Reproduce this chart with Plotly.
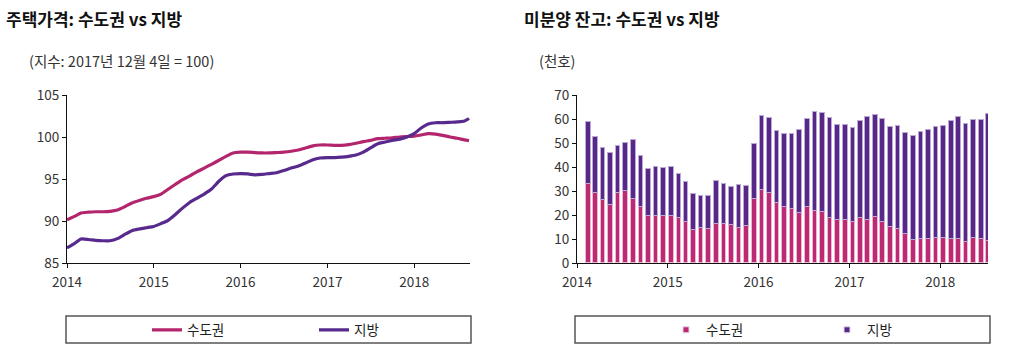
import pandas as pd
import plotly.graph_objects as go

# ---------------- Data ----------------
# Left: housing price index (2017-12-04 = 100), monthly from Jan 2014 + final point
price_dates = list(pd.date_range("2014-01-01", periods=56, freq="MS").strftime("%Y-%m-%d")) + ["2018-08-20"]
capital_idx = [90.15, 90.55, 90.95, 91.05, 91.1, 91.1, 91.15, 91.3, 91.7, 92.15, 92.45, 92.7,
               92.9, 93.2, 93.75, 94.35, 94.9, 95.35, 95.85, 96.3, 96.75, 97.2, 97.7, 98.1,
               98.2, 98.2, 98.15, 98.1, 98.1, 98.15, 98.2, 98.3, 98.45, 98.7, 98.95, 99.05,
               99.05, 99.0, 99.0, 99.1, 99.25, 99.45, 99.6, 99.8, 99.85, 99.9, 100.0, 100.05,
               100.1, 100.25, 100.4, 100.35, 100.2, 100.0, 99.85, 99.65, 99.55]
region_idx = [86.8, 87.3, 87.85, 87.8, 87.7, 87.65, 87.65, 87.9, 88.4, 88.85, 89.05, 89.2,
              89.35, 89.7, 90.05, 90.75, 91.5, 92.2, 92.7, 93.2, 93.8, 94.7, 95.4, 95.6,
              95.65, 95.6, 95.5, 95.55, 95.65, 95.75, 96.0, 96.3, 96.55, 96.9, 97.3, 97.5,
              97.55, 97.55, 97.6, 97.7, 97.85, 98.2, 98.7, 99.2, 99.4, 99.6, 99.75, 100.0,
              100.4, 101.1, 101.55, 101.7, 101.7, 101.75, 101.8, 101.9, 102.2]

# Right: unsold housing stock (thousand units), monthly Jan 2014 - Jun 2018
stock_dates = list(pd.date_range("2014-01-15", periods=54, freq="MS").strftime("%Y-%m-15"))
stock_total = [58.6, 52.4, 47.9, 45.7, 48.9, 50.0, 51.4, 44.7, 39.3, 40.0, 39.7, 40.1,
               36.9, 33.9, 28.75, 27.8, 27.8, 34.0, 32.9, 31.5, 32.6, 31.9, 49.6, 61.25,
               60.6, 55.1, 53.6, 53.75, 55.6, 60.1, 62.8, 62.5, 60.6, 57.5, 57.6, 56.25,
               59.0, 61.0, 61.7, 60.1, 56.8, 57.2, 54.2, 53.1, 54.7, 55.6, 56.7, 57.1,
               59.0, 60.8, 57.9, 59.6, 59.7, 62.1]
stock_capital = [32.9, 29.3, 26.1, 24.2, 29.0, 30.1, 26.7, 23.2, 19.7, 19.4, 19.4, 19.4,
                 18.6, 16.9, 13.9, 14.4, 14.2, 16.25, 16.1, 16.0, 14.6, 15.6, 26.7, 30.4,
                 29.2, 24.9, 23.2, 22.5, 21.0, 23.2, 21.5, 21.25, 18.75, 17.9, 17.9, 16.9,
                 18.6, 17.9, 19.0, 16.9, 15.1, 14.2, 12.1, 9.7, 10.0, 10.0, 10.3, 10.3,
                 10.0, 9.9, 8.6, 10.3, 9.9, 9.3]
stock_region = [round(t - c, 2) for t, c in zip(stock_total, stock_capital)]

names = ["수도권", "지방"]
left_title = "주택가격: 수도권 vs 지방"
right_title = "미분양 잔고: 수도권 vs 지방"
left_unit = "(지수: 2017년 12월 4일 = 100)"
right_unit = "(천호)"

# ---------------- Styles ----------------
PINK = "#B3266E"
PURPLE = "#582A8D"
BAR_PINK = "#BC2A74"
BAR_PURPLE = "#582889"
FONT = "Noto Sans CJK KR"
W, H = 1020, 360

def px_x(v):
    return v / W

def px_y(v):
    return (H - v) / H

fig = go.Figure()

fig.add_trace(go.Scatter(x=price_dates, y=capital_idx, name=names[0], mode="lines",
                         line=dict(color=PINK, width=3.2, shape="spline", smoothing=0.6),
                         xaxis="x", yaxis="y", legend="legend"))
fig.add_trace(go.Scatter(x=price_dates, y=region_idx, name=names[1], mode="lines",
                         line=dict(color=PURPLE, width=3.2, shape="spline", smoothing=0.6),
                         xaxis="x", yaxis="y", legend="legend"))

bar_w = 19 * 24 * 3600 * 1000
fig.add_trace(go.Bar(x=stock_dates, y=stock_capital, name=names[0], width=bar_w,
                     marker=dict(color=BAR_PINK, line=dict(color="#EDB6D2", width=1)),
                     xaxis="x2", yaxis="y2", showlegend=False))
fig.add_trace(go.Bar(x=stock_dates, y=stock_region, name=names[1], width=bar_w,
                     marker=dict(color=BAR_PURPLE, line=dict(color="#BCAAD6", width=1)),
                     xaxis="x2", yaxis="y2", showlegend=False))
# legend-only entries with small square keys
for nm, col in zip(names, [BAR_PINK, BAR_PURPLE]):
    fig.add_trace(go.Scatter(x=[None], y=[None], name=nm, mode="markers",
                             marker=dict(symbol="square", size=6, color=col,
                                         line=dict(color="#E6D6EA", width=1)),
                             xaxis="x2", yaxis="y2", legend="legend2"))

axis_common = dict(showgrid=False, zeroline=False, showline=True, linecolor="#111", linewidth=1,
                   ticks="outside", ticklen=4, tickcolor="#111", automargin=False,
                   tickfont=dict(family=FONT, size=13.5, color="#333"))

ydom = [px_y(263), px_y(95)]
years = ["2014-01-01", "2015-01-01", "2016-01-01", "2017-01-01", "2018-01-01"]
year_txt = ["2014", "2015", "2016", "2017", "2018"]
fig.update_layout(
    template="none",
    width=W, height=H, margin=dict(l=0, r=0, t=0, b=0, autoexpand=False),
    paper_bgcolor="white", plot_bgcolor="white",
    barmode="stack", bargap=0,
    font=dict(family=FONT, size=13, color="#222"),
    xaxis=dict(domain=[px_x(67), px_x(470)], type="date",
               range=["2014-01-01", "2018-08-24"], ticklabelstandoff=3,
               tickvals=years, ticktext=year_txt, anchor="y", **axis_common),
    yaxis=dict(domain=ydom, range=[85, 105], dtick=5, anchor="x", **axis_common),
    xaxis2=dict(domain=[px_x(577), px_x(988)], type="date",
                range=["2014-01-01", "2018-07-12"], anchor="y2", ticklabelstandoff=3,
                tickvals=years, ticktext=year_txt, **axis_common),
    yaxis2=dict(domain=ydom, range=[0, 70], dtick=10, anchor="x2", **axis_common),
    legend=dict(orientation="h", x=px_x(147), xanchor="left", y=px_y(330), yanchor="middle",
                entrywidth=122, entrywidthmode="pixels", bgcolor="rgba(0,0,0,0)",
                traceorder="normal",
                font=dict(family=FONT, size=13.5, color="#222")),
    legend2=dict(orientation="h", x=px_x(666), xanchor="left", y=px_y(330), yanchor="middle",
                 entrywidth=116, entrywidthmode="pixels", bgcolor="rgba(0,0,0,0)",
                 traceorder="normal",
                 font=dict(family=FONT, size=13.5, color="#222")),
    shapes=[
        dict(type="rect", xref="paper", yref="paper", x0=px_x(66), x1=px_x(471),
             y0=px_y(343), y1=px_y(316), line=dict(color="#555", width=1.5)),
        dict(type="rect", xref="paper", yref="paper", x0=px_x(575), x1=px_x(990),
             y0=px_y(343), y1=px_y(316), line=dict(color="#555", width=1.5)),
    ],
    annotations=[
        dict(text=f"<b>{left_title}</b>", xref="paper", yref="paper", x=px_x(4), y=px_y(18),
             xanchor="left", yanchor="middle", showarrow=False,
             font=dict(family=FONT, size=17, color="#111")),
        dict(text=f"<b>{right_title}</b>", xref="paper", yref="paper", x=px_x(522), y=px_y(18),
             xanchor="left", yanchor="middle", showarrow=False,
             font=dict(family=FONT, size=17, color="#111")),
        dict(text=left_unit, xref="paper", yref="paper", x=px_x(27), y=px_y(61),
             xanchor="left", yanchor="middle", showarrow=False,
             font=dict(family=FONT, size=14.5, color="#333")),
        dict(text=right_unit, xref="paper", yref="paper", x=px_x(537), y=px_y(61),
             xanchor="left", yanchor="middle", showarrow=False,
             font=dict(family=FONT, size=14.5, color="#333")),
    ],
)

fig.write_html("out.html", config={"displayModeBar": False},
               post_script="document.body.style.margin='0';document.body.style.overflow='hidden';")
